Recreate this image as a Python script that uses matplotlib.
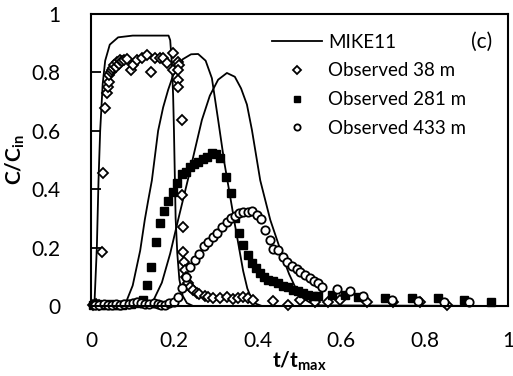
import matplotlib
matplotlib.use("Agg")
import matplotlib.pyplot as plt

plt.rcParams["font.family"] = ["Lato", "DejaVu Sans"]
plt.rcParams["mathtext.fontset"] = "custom"
plt.rcParams["mathtext.rm"] = "Lato"
plt.rcParams["mathtext.bf"] = "Lato:bold"
plt.rcParams["mathtext.it"] = "Lato:italic"

# MIKE11 model curves
m38_x = [0, 0.008, 0.014, 0.018, 0.022, 0.028, 0.034, 0.045, 0.065, 0.1, 0.186,
         0.19, 0.194, 0.197, 0.199, 0.201, 0.203, 0.207, 0.212, 0.22, 0.23, 0.245, 1.0]
m38_y = [0, 0, 0.2, 0.43, 0.6, 0.76, 0.84, 0.895, 0.92, 0.926, 0.926,
         0.91, 0.83, 0.72, 0.6, 0.45, 0.3, 0.18, 0.09, 0.035, 0.01, 0, 0]

m281_x = [0, 0.077, 0.086, 0.1, 0.118, 0.129, 0.137, 0.146, 0.161, 0.173, 0.185,
          0.197, 0.22, 0.24, 0.257, 0.275, 0.29, 0.305, 0.32, 0.338, 0.345, 0.355,
          0.365, 0.375, 0.385, 0.395, 0.41, 1.0]
m281_y = [0, 0, 0.02, 0.07, 0.19, 0.295, 0.36, 0.43, 0.6, 0.68, 0.74,
          0.79, 0.845, 0.862, 0.863, 0.84, 0.78, 0.637, 0.49, 0.34, 0.28, 0.2,
          0.12, 0.06, 0.025, 0.008, 0, 0]

m433_x = [0, 0.13, 0.15, 0.17, 0.19, 0.209, 0.232, 0.25, 0.266, 0.285, 0.305,
          0.326, 0.345, 0.36, 0.374, 0.386, 0.406, 0.43, 0.46, 0.475, 0.493,
          0.51, 0.525, 0.55, 1.0]
m433_y = [0, 0, 0.02, 0.08, 0.18, 0.295, 0.43, 0.54, 0.637, 0.72, 0.775,
          0.798, 0.785, 0.745, 0.69, 0.603, 0.43, 0.295, 0.168, 0.11, 0.055,
          0.025, 0.012, 0.002, 0]

# Observed 38 m
o38_x = [0.005, 0.012, 0.018, 0.026, 0.029, 0.034, 0.038, 0.04, 0.042, 0.044, 0.047,
         0.05, 0.053, 0.056, 0.06, 0.062, 0.066, 0.07, 0.075, 0.08, 0.086, 0.096,
         0.1, 0.11, 0.122, 0.134, 0.143, 0.153, 0.165, 0.173, 0.182, 0.196, 0.197,
         0.209, 0.212, 0.209, 0.209, 0.209, 0.218, 0.218, 0.221, 0.221, 0.223, 0.226,
         0.229, 0.233, 0.238, 0.245, 0.254, 0.26, 0.273, 0.28, 0.293, 0.309, 0.326,
         0.34, 0.352, 0.365, 0.377, 0.389, 0.437, 0.472, 0.501, 0.537, 0.568, 0.597,
         0.662, 0.724, 0.789, 0.854]
o38_y = [0.004, 0.006, 0.004, 0.185, 0.455, 0.678, 0.73, 0.75, 0.767, 0.79, 0.8,
         0.808, 0.815, 0.825, 0.82, 0.836, 0.83, 0.842, 0.84, 0.842, 0.845, 0.808,
         0.825, 0.842, 0.849, 0.86, 0.8, 0.849, 0.849, 0.849, 0.832, 0.866, 0.808,
         0.836, 0.825, 0.808, 0.774, 0.75, 0.637, 0.38, 0.27, 0.185, 0.15, 0.123,
         0.1, 0.079, 0.065, 0.055, 0.045, 0.04, 0.035, 0.031, 0.027, 0.027, 0.031,
         0.024, 0.027, 0.031, 0.027, 0.02, 0.017, 0.003, 0.02, 0.014, 0.014, 0.02,
         0.014, 0.014, 0.014, 0.003]

# Observed 281 m
o281_x = [0.005, 0.015, 0.025, 0.035, 0.045, 0.055, 0.065, 0.075, 0.085, 0.095,
          0.105, 0.115, 0.125, 0.134, 0.144, 0.155, 0.165, 0.175, 0.185, 0.196,
          0.207, 0.218, 0.228, 0.237, 0.247, 0.257, 0.268, 0.278, 0.29, 0.3, 0.309,
          0.324, 0.336, 0.345, 0.355, 0.365, 0.376, 0.386, 0.396, 0.405, 0.415,
          0.425, 0.437, 0.448, 0.46, 0.472, 0.484, 0.496, 0.508, 0.52, 0.532, 0.544,
          0.578, 0.609, 0.64, 0.705, 0.77, 0.832, 0.895, 0.959]
o281_y = [0.004, 0.006, 0.005, 0.004, 0.006, 0.005, 0.004, 0.005, 0.006, 0.008,
          0.01, 0.012, 0.02, 0.072, 0.134, 0.22, 0.284, 0.327, 0.36, 0.392,
          0.42, 0.452, 0.459, 0.476, 0.486, 0.493, 0.503, 0.51, 0.524, 0.521, 0.507,
          0.442, 0.387, 0.303, 0.25, 0.209, 0.175, 0.147, 0.13, 0.113, 0.1,
          0.09, 0.085, 0.079, 0.068, 0.065, 0.055, 0.051, 0.045, 0.038, 0.034, 0.034,
          0.038, 0.038, 0.031, 0.027, 0.027, 0.027, 0.02, 0.014]

# Observed 433 m
o433_x = [0.01, 0.02, 0.03, 0.04, 0.05, 0.06, 0.07, 0.08, 0.09, 0.1, 0.11, 0.12,
          0.13, 0.14, 0.15, 0.16, 0.168, 0.177, 0.188, 0.2, 0.209, 0.218, 0.228,
          0.237, 0.249, 0.259, 0.271, 0.281, 0.293, 0.302, 0.314, 0.326, 0.336,
          0.345, 0.355, 0.365, 0.377, 0.386, 0.398, 0.408, 0.417, 0.429, 0.437,
          0.448, 0.46, 0.47, 0.482, 0.494, 0.501, 0.513, 0.525, 0.535, 0.544,
          0.554, 0.59, 0.621, 0.652, 0.722, 0.784, 0.847, 0.906]
o433_y = [0.005, 0.004, 0.006, 0.005, 0.004, 0.006, 0.005, 0.007, 0.008, 0.01, 0.012, 0.01,
          0.008, 0.007, 0.009, 0.006, 0.005, 0.004, 0.01, 0.014, 0.031, 0.062, 0.098,
          0.134, 0.158, 0.178, 0.205, 0.219, 0.236, 0.25, 0.271, 0.288, 0.301,
          0.308, 0.318, 0.322, 0.322, 0.325, 0.312, 0.298, 0.26, 0.226, 0.195,
          0.192, 0.168, 0.151, 0.137, 0.127, 0.116, 0.106, 0.096, 0.086, 0.079,
          0.065, 0.058, 0.051, 0.034, 0.02, 0.017, 0.014, 0.014]

ticks = [0, 0.2, 0.4, 0.6, 0.8, 1]
tick_labels = ["0", "0.2", "0.4", "0.6", "0.8", "1"]

fig = plt.figure(figsize=(5.13, 3.76), dpi=100)
ax = fig.add_axes([0.1774, 0.1862, 0.8126, 0.7766])

ax.plot(m38_x, m38_y, color="black", lw=1.3, label="MIKE11")
ax.plot(m281_x, m281_y, color="black", lw=1.3)
ax.plot(m433_x, m433_y, color="black", lw=1.3)

ax.plot(o38_x, o38_y, ls="none", marker="D", ms=5.5, mfc="white", mec="black", mew=1.3,
        label="Observed 38 m", clip_on=False)
ax.plot(o281_x, o281_y, ls="none", marker="s", ms=6, mfc="black", mec="black",
        label="Observed 281 m", clip_on=False)
ax.plot(o433_x, o433_y, ls="none", marker="o", ms=6, mfc="white", mec="black", mew=1.3,
        label="Observed 433 m", clip_on=False)

ax.set_xlim(0, 1)
ax.set_ylim(0, 1)
ax.set_xticks(ticks)
ax.set_xticklabels(tick_labels)
ax.set_yticks(ticks)
ax.set_yticklabels(tick_labels)
ax.tick_params(axis="y", direction="in", length=7, width=1.3, pad=22, labelsize=15)
ax.tick_params(axis="x", length=0, pad=18, labelsize=15)
for s in ax.spines.values():
    s.set_linewidth(1.5)

ax.set_xlabel(r"$\mathbf{t/t_{max}}$", fontsize=15, labelpad=-1)
ax.set_ylabel(r"$\mathbf{C/C_{in}}$", fontsize=15, labelpad=3)

ax.legend(loc="upper left", bbox_to_anchor=(0.434, 0.932), frameon=False, fontsize=13.5,
          handlelength=2.67, handletextpad=0.32, labelspacing=0.62, borderaxespad=0,
          borderpad=0, markerscale=0.75)
ax.text(0.938, 0.904, "(c)", transform=ax.transAxes, fontsize=15, ha="center", va="center")

fig.savefig("out.png", dpi=100)
